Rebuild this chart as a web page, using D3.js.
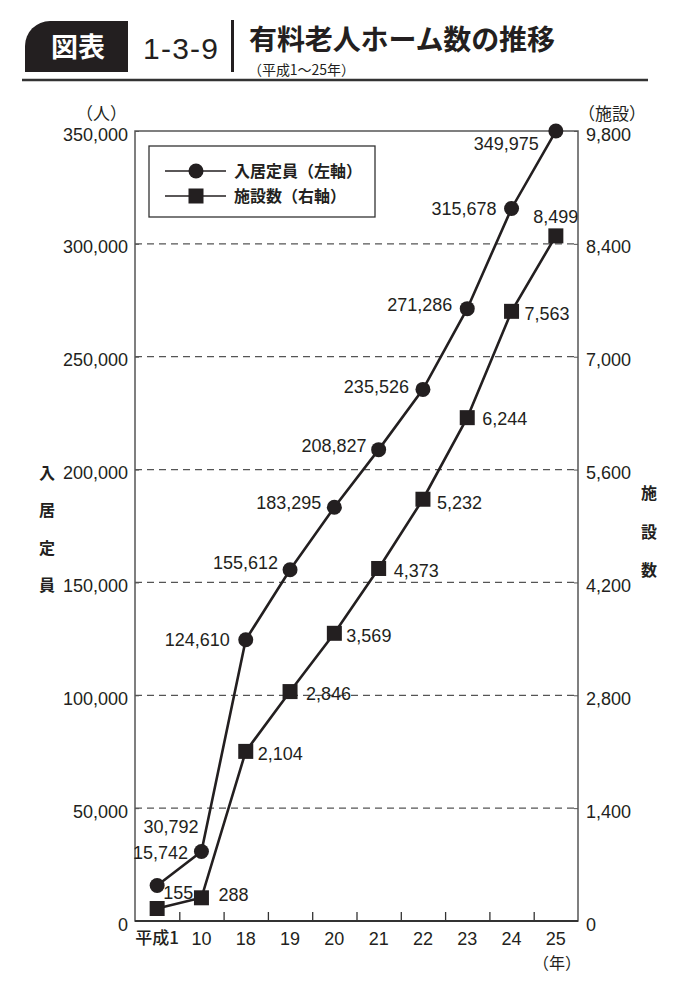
<!DOCTYPE html>
<html><head><meta charset="utf-8">
<script src="https://cdn.jsdelivr.net/npm/d3@7"></script>
<style>
body{margin:0;background:#fff;}
svg text{font-family:"Liberation Sans",Arial,sans-serif;}
.jp{font-family:"Noto Sans CJK JP","Noto Sans",sans-serif;}
</style></head>
<body><svg id="c" width="690" height="1000"></svg>
<script>
const categories = ["平成1","10","18","19","20","21","22","23","24","25"];
const capacity = [15742,30792,124610,155612,183295,208827,235526,271286,315678,349975];
const facilities = [155,288,2104,2846,3569,4373,5232,6244,7563,8499];
const leftTicks = [0,50000,100000,150000,200000,250000,300000,350000];
const rightTicks = [0,1400,2800,4200,5600,7000,8400,9800];
const capLabels = ["15,742","30,792","124,610","155,612","183,295","208,827","235,526","271,286","315,678","349,975"];
const facLabels = ["155","288","2,104","2,846","3,569","4,373","5,232","6,244","7,563","8,499"];

// label offsets (style)
const capOff = [[31,-33],[-3,-25],[-16,0],[-12,-7],[-13,-5],[-12,-4],[-14,-3],[-15,-4],[-15,0],[-17,12]];
const facOff = [[6,-16],[17,-3],[12,2],[16,2],[12,2],[15,2],[14,3],[15,1],[13,2],[0,-19]];

const svg = d3.select("#c");
const L=135,R=578,T=131,B=921;
const x = d3.scaleBand().domain(categories).range([L,R]);
const yL = d3.scaleLinear().domain([0,350000]).range([B,T]);
const yR = d3.scaleLinear().domain([0,9800]).range([B,T]);

// Title
svg.append("path").attr("d","M128,21 L50,21 A25,25 0 0 0 25,46 L25,72 L128,72 Z").attr("fill","#231f20");
svg.append("text").attr("class","jp").attr("x",78).attr("y",57).attr("text-anchor","middle")
  .attr("fill","#fff").attr("font-size",27).attr("font-weight",700).text("図表");
svg.append("text").attr("x",143).attr("y",59).attr("font-size",30).attr("fill","#231f20")
  .attr("textLength",75).text("1-3-9");
svg.append("rect").attr("x",231).attr("y",20).attr("width",3).attr("height",52).attr("fill","#231f20");
svg.append("text").attr("class","jp").attr("x",249).attr("y",50).attr("font-size",28).attr("font-weight",700)
  .attr("fill","#231f20").attr("textLength",306).text("有料老人ホーム数の推移");
svg.append("text").attr("class","jp").attr("x",248).attr("y",75).attr("font-size",14)
  .attr("fill","#231f20").attr("textLength",107).text("（平成1～25年）");
svg.append("line").attr("x1",22).attr("x2",648).attr("y1",80).attr("y2",80).attr("stroke","#333").attr("stroke-width",2.5);

// gridlines
svg.append("g").selectAll("line").data(leftTicks.filter(d=>d>0&&d<350000)).join("line")
  .attr("x1",L).attr("x2",R).attr("y1",d=>yL(d)).attr("y2",d=>yL(d))
  .attr("stroke","#555").attr("stroke-width",1.2).attr("stroke-dasharray","7,5");

// box
svg.append("rect").attr("x",L).attr("y",T).attr("width",R-L).attr("height",B-T)
  .attr("fill","none").attr("stroke","#555").attr("stroke-width",1.5);

// left axis
const gl = svg.append("g").attr("transform",`translate(${L},0)`)
  .call(d3.axisLeft(yL).tickValues(leftTicks).tickFormat(d3.format(",")).tickSizeInner(-4).tickSizeOuter(0).tickPadding(7));
gl.select(".domain").remove();
gl.selectAll("line").attr("stroke","#555");
gl.selectAll("text").attr("font-size",18).attr("fill","#231f20").attr("dy","0.5em");

// right axis
const gr = svg.append("g").attr("transform",`translate(${R},0)`)
  .call(d3.axisRight(yR).tickValues(rightTicks).tickFormat(d3.format(",")).tickSizeInner(-4).tickSizeOuter(0).tickPadding(8));
gr.select(".domain").remove();
gr.selectAll("line").attr("stroke","#555");
gr.selectAll("text").attr("font-size",18).attr("fill","#231f20").attr("dy","0.5em");

// bottom ticks at band boundaries
const xi = d3.scaleLinear().domain([0,categories.length]).range([L,R]);
const gt = svg.append("g").attr("transform",`translate(0,${B})`)
  .call(d3.axisBottom(xi).tickValues(d3.range(1,categories.length)).tickSizeInner(-9).tickSizeOuter(0).tickFormat(""));
gt.select(".domain").remove();
gt.selectAll("line").attr("stroke","#333").attr("stroke-width",1.3);
svg.append("line").attr("x1",L).attr("x2",R).attr("y1",B).attr("y2",B).attr("stroke","#333").attr("stroke-width",1.8);

// bottom labels
const gb = svg.append("g").attr("transform",`translate(0,${B})`)
  .call(d3.axisBottom(x).tickSize(0).tickPadding(11));
gb.select(".domain").remove();
gb.selectAll("text").attr("font-size",18).attr("fill","#231f20")
  .attr("class",d=>/[^0-9]/.test(d)?"jp":null)
  .each(function(d){ if(/[^0-9]/.test(d)) d3.select(this).attr("font-size",17).attr("font-weight",500); });

// unit labels
svg.append("text").attr("class","jp").attr("x",127).attr("y",120).attr("text-anchor","end").attr("font-size",17).attr("fill","#231f20").text("（人）");
svg.append("text").attr("class","jp").attr("x",578).attr("y",120).attr("font-size",17).attr("fill","#231f20").text("（施設）");
svg.append("text").attr("class","jp").attr("x",557).attr("y",969).attr("text-anchor","middle").attr("font-size",16).attr("fill","#231f20").text("（年）");

// axis titles
["入","居","定","員"].forEach((c,i)=>svg.append("text").attr("class","jp").attr("x",47).attr("y",479+i*37.3)
  .attr("text-anchor","middle").attr("font-size",16).attr("font-weight",700).attr("fill","#231f20").text(c));
["施","設","数"].forEach((c,i)=>svg.append("text").attr("class","jp").attr("x",649).attr("y",499+i*38.5)
  .attr("text-anchor","middle").attr("font-size",16).attr("font-weight",700).attr("fill","#231f20").text(c));

const cx = (d,i)=>x(categories[i])+x.bandwidth()/2;

// lines
svg.append("path").datum(capacity).attr("fill","none").attr("stroke","#231f20").attr("stroke-width",2.6)
  .attr("d",d3.line().x(cx).y(d=>yL(d)));
svg.append("path").datum(facilities).attr("fill","none").attr("stroke","#231f20").attr("stroke-width",2.6)
  .attr("d",d3.line().x(cx).y(d=>yR(d)));

// markers
svg.append("g").selectAll("circle").data(capacity).join("circle")
  .attr("cx",cx).attr("cy",d=>yL(d)).attr("r",7.5).attr("fill","#231f20");
svg.append("g").selectAll("rect").data(facilities).join("rect")
  .attr("x",(d,i)=>cx(d,i)-7.5).attr("y",d=>yR(d)-7.5).attr("width",15).attr("height",15).attr("fill","#231f20");

// data labels
svg.append("g").selectAll("text").data(capacity).join("text")
  .attr("x",(d,i)=>cx(d,i)+capOff[i][0]).attr("y",(d,i)=>yL(d)+capOff[i][1])
  .attr("dy","0.36em").attr("text-anchor","end").attr("font-size",18).attr("fill","#231f20")
  .text((d,i)=>capLabels[i]);
svg.append("g").selectAll("text").data(facilities).join("text")
  .attr("x",(d,i)=>cx(d,i)+facOff[i][0]).attr("y",(d,i)=>yR(d)+facOff[i][1])
  .attr("dy","0.36em").attr("text-anchor",(d,i)=>i===facilities.length-1?"middle":"start")
  .attr("font-size",18).attr("fill","#231f20")
  .text((d,i)=>facLabels[i]);

// legend
const lg = svg.append("g");
lg.append("rect").attr("x",149).attr("y",146).attr("width",226).attr("height",71)
  .attr("fill","#fff").attr("stroke","#333").attr("stroke-width",1.3);
[["入居定員（左軸）","c",171],["施設数（右軸）","s",196]].forEach(([t,m,yy])=>{
  lg.append("line").attr("x1",165).attr("x2",226).attr("y1",yy).attr("y2",yy).attr("stroke","#231f20").attr("stroke-width",1.5);
  if(m==="c") lg.append("circle").attr("cx",196).attr("cy",yy).attr("r",7.5).attr("fill","#231f20");
  else lg.append("rect").attr("x",188.5).attr("y",yy-7.5).attr("width",15).attr("height",15).attr("fill","#231f20");
  lg.append("text").attr("class","jp").attr("x",234).attr("y",yy).attr("dy","0.36em").attr("font-size",16)
    .attr("font-weight",700).attr("fill","#231f20").text(t);
});
</script></body></html>
